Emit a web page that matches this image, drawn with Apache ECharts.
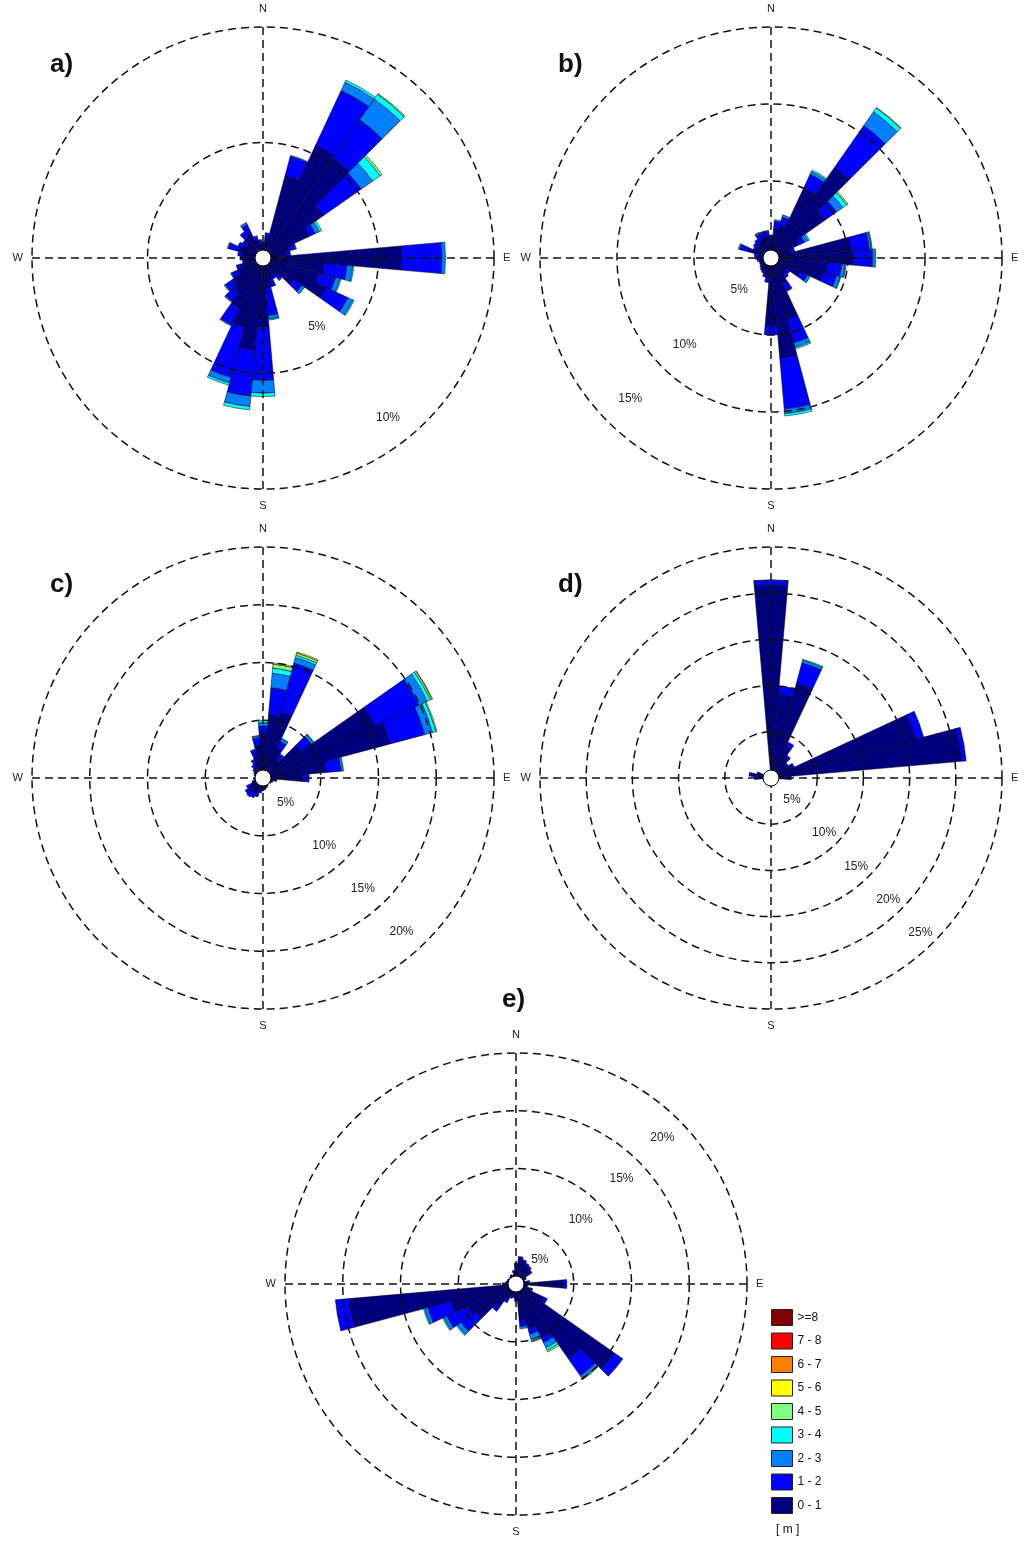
<!DOCTYPE html>
<html>
<head>
<meta charset="utf-8">
<title>Wind roses</title>
<script src="https://cdn.jsdelivr.net/npm/echarts@6/dist/echarts.min.js"></script>
<style>
    html, body { margin: 0; padding: 0; background: #ffffff; }
    #chart { width: 1024px; height: 1543px; }
</style>
</head>
<body>
<div id="chart"></div>
<script>
// direction bins (degrees, clockwise from north)
const DIRECTIONS = ['0', '10', '20', '30', '40', '50', '60', '70', '80', '90', '100', '110',
    '120', '130', '140', '150', '160', '170', '180', '190', '200', '210', '220', '230',
    '240', '250', '260', '270', '280', '290', '300', '310', '320', '330', '340', '350'];

const CLASSES = ['0 - 1', '1 - 2', '2 - 3', '3 - 4', '4 - 5', '5 - 6', '6 - 7', '7 - 8', '>=8'];
const LEGEND_ORDER = ['>=8', '7 - 8', '6 - 7', '5 - 6', '4 - 5', '3 - 4', '2 - 3', '1 - 2', '0 - 1'];

// ring tick labels per panel (%)
const RINGS_A = [5, 10];
const RINGS_B = [5, 10, 15];
const RINGS_C = [5, 10, 15, 20];
const RINGS_D = [5, 10, 15, 20, 25];
const RINGS_E = [5, 10, 15, 20];

// panel a) frequency (%) per direction for each wave height class
const A_01 = [0.6, 0.9, 3.7, 5.4, 5.3, 3.2, 2.2, 1.2, 1.0, 6.0, 2.65, 2.5, 3.0, 1.6, 0.9, 0.8, 1.0, 1.3,
    3.0, 4.0, 3.1, 2.4, 1.8, 1.6, 1.2, 1.0, 0.8, 0.85, 0.9, 1.1, 1.0, 0.9, 1.1, 1.2, 0.8, 0.7];
const A_12 = [0.1, 0.2, 0.85, 2.6, 2.0, 2.0, 0.3, 0.25, 0.2, 1.75, 1.0, 0.75, 1.05, 0.45, 0.25, 0.2, 0.3, 1.2,
    2.3, 2.0, 2.25, 0.8, 0.5, 0.4, 0.3, 0.2, 0.1, 0.15, 0.2, 0.45, 0.2, 0.2, 0.3, 0.4, 0.2, 0.1];
const A_23 = [0, 0, 0.05, 0.4, 1.1, 0.6, 0.2, 0.05, 0, 0.15, 0.25, 0.2, 0.25, 0.15, 0.05, 0, 0, 0.15,
    0.55, 0.45, 0.25, 0.05, 0.05, 0.05, 0.05, 0, 0, 0, 0, 0.05, 0, 0, 0, 0.1, 0, 0];
const A_34 = [0, 0, 0, 0.1, 0.25, 0.4, 0.1, 0, 0, 0, 0.05, 0.05, 0.05, 0, 0, 0, 0, 0.05,
    0.15, 0.15, 0.1, 0, 0, 0, 0, 0, 0, 0, 0, 0, 0, 0, 0, 0, 0, 0];
const A_45 = [0, 0, 0, 0, 0.05, 0.1, 0, 0, 0, 0, 0, 0, 0, 0, 0, 0, 0, 0,
    0, 0, 0, 0, 0, 0, 0, 0, 0, 0, 0, 0, 0, 0, 0, 0, 0, 0];

// panel b)
const B_01 = [1.2, 1.9, 2.2, 5.0, 7.2, 4.3, 2.0, 1.3, 5.2, 5.3, 3.7, 3.5, 2.1, 1.2, 1.3, 1.8, 4.1, 6.5,
    4.4, 1.3, 1.1, 0.9, 0.9, 0.8, 0.7, 0.7, 0.8, 0.9, 0.9, 1.6, 1.1, 1.1, 1.2, 1.3, 1.4, 1.4];
const B_12 = [0.3, 0.5, 0.55, 1.0, 3.3, 0.9, 0.4, 0.3, 1.2, 1.3, 0.9, 0.9, 0.5, 0.3, 0.3, 0.55, 1.6, 3.35,
    0.6, 0.3, 0.2, 0.2, 0.1, 0.1, 0.1, 0.1, 0.1, 0.1, 0.2, 0.5, 0.2, 0.3, 0.3, 0.45, 0.4, 0.35];
const B_23 = [0, 0.1, 0.15, 0.2, 1.1, 0.5, 0.25, 0, 0.15, 0.2, 0.25, 0.25, 0.2, 0, 0, 0.05, 0.3, 0.3,
    0, 0, 0, 0, 0, 0, 0, 0, 0, 0, 0, 0.1, 0, 0, 0, 0.1, 0, 0.05];
const B_34 = [0, 0, 0, 0.1, 0.3, 0.3, 0.1, 0, 0.05, 0, 0.05, 0.05, 0, 0, 0, 0, 0.1, 0.15,
    0, 0, 0, 0, 0, 0, 0, 0, 0, 0, 0, 0, 0, 0, 0, 0, 0, 0];
const B_45 = [0, 0, 0, 0, 0.05, 0.1, 0, 0, 0, 0, 0, 0, 0, 0, 0, 0, 0, 0,
    0, 0, 0, 0, 0, 0, 0, 0, 0, 0, 0, 0, 0, 0, 0, 0, 0, 0];

// panel c)
const C_01 = [3.8, 5.5, 5.9, 2.8, 2.0, 4.0, 10.7, 11.4, 5.5, 3.4, 1.0, 0.8, 0.7, 0.6, 0.6, 0.7, 0.8, 0.9,
    0.9, 1.0, 1.3, 1.4, 1.4, 1.4, 1.2, 0.8, 0.7, 0.6, 0.6, 0.7, 0.8, 0.9, 1.1, 1.4, 1.9, 2.8];
const C_12 = [0.7, 2.35, 4.4, 0.7, 0.5, 1.1, 4.2, 3.1, 1.3, 0.6, 0.2, 0.1, 0.1, 0.1, 0.1, 0.1, 0.1, 0.1,
    0.2, 0.3, 0.4, 0.5, 0.6, 0.5, 0.4, 0.2, 0.1, 0.1, 0.1, 0.1, 0.1, 0.2, 0.3, 0.4, 0.6, 0.7];
const C_23 = [0.3, 1.25, 0.5, 0.25, 0.1, 0.25, 0.8, 0.7, 0.2, 0, 0, 0, 0, 0, 0, 0, 0, 0,
    0, 0, 0, 0, 0, 0, 0, 0, 0, 0, 0, 0, 0, 0, 0, 0, 0.1, 0.15];
const C_34 = [0.2, 0.45, 0.2, 0.05, 0, 0.05, 0.3, 0.3, 0, 0, 0, 0, 0, 0, 0, 0, 0, 0,
    0, 0, 0, 0, 0, 0, 0, 0, 0, 0, 0, 0, 0, 0, 0, 0, 0, 0.05];
const C_45 = [0, 0.35, 0.2, 0, 0, 0, 0.15, 0.1, 0, 0, 0, 0, 0, 0, 0, 0, 0, 0,
    0, 0, 0, 0, 0, 0, 0, 0, 0, 0, 0, 0, 0, 0, 0, 0, 0, 0];
const C_56 = [0, 0.1, 0.1, 0, 0, 0, 0.05, 0, 0, 0, 0, 0, 0, 0, 0, 0, 0, 0,
    0, 0, 0, 0, 0, 0, 0, 0, 0, 0, 0, 0, 0, 0, 0, 0, 0, 0];

// panel d)
const D_01 = [20.9, 9.1, 10.6, 3.8, 2.7, 2.1, 2.5, 16.2, 20.7, 2.0, 0.7, 0.5, 0.4, 0.3, 0.3, 0.3, 0.3, 0.3,
    0.3, 0.3, 0.3, 0.3, 0.3, 0.3, 0.4, 0.5, 0.8, 1.5, 2.0, 1.4, 0.6, 0.4, 0.4, 0.4, 0.5, 0.6];
const D_12 = [0.5, 0.9, 2.3, 0.5, 0.3, 0.2, 0.3, 0.9, 0.5, 0.2, 0, 0, 0, 0, 0, 0, 0, 0,
    0, 0, 0, 0, 0, 0, 0, 0, 0, 0.3, 0.4, 0.2, 0, 0, 0, 0, 0, 0];
const D_23 = [0.05, 0, 0.3, 0, 0, 0, 0, 0, 0, 0, 0, 0, 0, 0, 0, 0, 0, 0,
    0, 0, 0, 0, 0, 0, 0, 0, 0, 0, 0, 0, 0, 0, 0, 0, 0, 0];
const D_34 = [0, 0, 0.1, 0, 0, 0, 0, 0, 0, 0, 0, 0, 0, 0, 0, 0, 0, 0,
    0, 0, 0, 0, 0, 0, 0, 0, 0, 0, 0, 0, 0, 0, 0, 0, 0, 0];

// panel e)
const E_01 = [1.6, 2.2, 2.0, 1.8, 1.7, 1.5, 0.9, 0.7, 1.0, 4.0, 0.9, 1.3, 2.7, 10.4, 7.9, 5.1, 4.0, 3.2,
    1.3, 1.0, 1.1, 1.5, 2.4, 4.2, 4.6, 5.8, 14.5, 1.0, 0.8, 0.7, 0.7, 0.6, 0.7, 0.8, 0.7, 1.1];
const E_12 = [0.2, 0.2, 0.2, 0.2, 0.2, 0.2, 0.1, 0.1, 0.2, 0.4, 0.1, 0.2, 0.3, 0.9, 1.8, 0.5, 0.5, 0.5,
    0.2, 0.2, 0.2, 0.3, 0.5, 1.6, 2.0, 2.1, 1.2, 0.2, 0.1, 0.1, 0.1, 0.1, 0.1, 0.1, 0.1, 0.1];
const E_23 = [0, 0, 0, 0, 0, 0, 0, 0, 0, 0, 0, 0, 0, 0, 0.25, 0.5, 0.5, 0.2,
    0, 0, 0, 0, 0, 0.4, 0.3, 0.3, 0, 0, 0, 0, 0, 0, 0, 0, 0, 0];
const E_34 = [0, 0, 0, 0, 0, 0, 0, 0, 0, 0, 0, 0, 0, 0, 0.1, 0.25, 0.15, 0,
    0, 0, 0, 0, 0, 0.1, 0.1, 0.1, 0, 0, 0, 0, 0, 0, 0, 0, 0, 0];
const E_45 = [0, 0, 0, 0, 0, 0, 0, 0, 0, 0, 0, 0, 0, 0, 0.05, 0.15, 0.05, 0,
    0, 0, 0, 0, 0, 0, 0, 0, 0, 0, 0, 0, 0, 0, 0, 0, 0, 0];

const CLASS_COLORS = ['#00007f', '#0000ff', '#0080ff', '#00ffff', '#80ff80',
    '#ffff00', '#ff8000', '#ff0000', '#7f0000'];

const FONT = 'Liberation Sans, Arial, sans-serif';

class WindRoseFigure {
    constructor(containerId) {
        this.containerId = containerId;
        this.chart = null;
        this.option = null;
        this.radius = 231;
    }

    init() {
        this.chart = echarts.init(document.getElementById(this.containerId), null, { renderer: 'canvas' });
        this.panels = [
            { label: 'a)', center: [263, 258], max: 10, rings: RINGS_A, labelAngle: -52, labelInset: 28,
              title: [45, 47], layers: [A_01, A_12, A_23, A_34, A_45] },
            { label: 'b)', center: [771, 258], max: 15, rings: RINGS_B, labelAngle: -135, labelInset: 32,
              title: [553, 47], layers: [B_01, B_12, B_23, B_34, B_45] },
            { label: 'c)', center: [263, 778], max: 20, rings: RINGS_C, labelAngle: -48, labelInset: 24,
              title: [45, 567], layers: [C_01, C_12, C_23, C_34, C_45, C_56] },
            { label: 'd)', center: [771, 778], max: 25, rings: RINGS_D, labelAngle: -46, labelInset: 16,
              title: [553, 567], layers: [D_01, D_12, D_23, D_34] },
            { label: 'e)', center: [516, 1284], max: 20, rings: RINGS_E, labelAngle: 45, labelInset: 24,
              title: [497, 982], layers: [E_01, E_12, E_23, E_34, E_45] }
        ];
        this.setOption();
    }

    setOption() {
        const n = this.panels.length;
        const R = this.radius;
        const polar = [];
        const angleAxis = [];
        const radiusAxis = [];
        const series = [];
        const title = [];
        const dash = { type: [8, 5], color: '#111', width: 1.5 };
        const compass = { 0: '{n|N}', 90: 'E', 180: '{s|S}', 270: 'W' };

        this.panels.forEach((p, i) => {
            // bars
            polar[i] = { center: p.center, radius: [0, R] };
            angleAxis[i] = {
                polarIndex: i, type: 'category', data: DIRECTIONS, startAngle: 95,
                clockwise: true, show: false
            };
            radiusAxis[i] = { polarIndex: i, type: 'value', min: 0, max: p.max, show: false };

            // dashed grid (drawn above bars)
            polar[n + i] = { center: p.center, radius: [0, R] };
            angleAxis[n + i] = {
                polarIndex: n + i, type: 'value', min: 0, max: 360, interval: 90,
                startAngle: 90, clockwise: true, z: 10,
                axisLine: { show: false },
                axisTick: { show: false },
                axisLabel: {
                    margin: 9, fontSize: 11, color: '#222', fontFamily: FONT,
                    formatter: v => compass[v] || '',
                    rich: {
                        n: { fontSize: 11, fontFamily: FONT, color: '#222', padding: [0, 0, 4, 0] },
                        s: { fontSize: 11, fontFamily: FONT, color: '#222', padding: [2, 0, 0, 0] }
                    }
                },
                splitLine: { show: true, lineStyle: dash }
            };
            radiusAxis[n + i] = {
                polarIndex: n + i, type: 'value', min: 0, max: p.max, interval: 5, z: 10,
                axisLine: { show: false },
                axisTick: { show: false },
                axisLabel: { show: false },
                splitLine: { show: true, lineStyle: dash }
            };

            // ring labels, pulled a little inside each ring
            const pxPerUnit = R / p.max;
            polar[2 * n + i] = { center: p.center, radius: [0, R - p.labelInset] };
            angleAxis[2 * n + i] = {
                polarIndex: 2 * n + i, type: 'value', min: 0, max: 360,
                startAngle: p.labelAngle, show: false
            };
            radiusAxis[2 * n + i] = {
                polarIndex: 2 * n + i, type: 'value',
                min: p.labelInset / pxPerUnit, max: p.max, z: 10,
                axisLine: { show: false },
                axisTick: { show: false },
                splitLine: { show: false },
                axisLabel: {
                    customValues: p.rings, margin: 0, rotate: 0,
                    align: 'center', verticalAlign: 'middle',
                    fontSize: 12, color: '#222', fontFamily: FONT,
                    formatter: '{value}%'
                }
            };

            CLASSES.forEach((name, k) => {
                const layer = p.layers[k] || [];
                series.push({
                    type: 'bar',
                    name: name,
                    coordinateSystem: 'polar',
                    polarIndex: i,
                    stack: 'rose' + i,
                    barCategoryGap: '0%',
                    silent: true,
                    z: 2,
                    itemStyle: { color: CLASS_COLORS[k], borderColor: '#000', borderWidth: 0.5 },
                    data: layer.map(v => (v === 0 ? null : v))
                });
            });

            // white hub in the middle
            series.push({
                type: 'pie',
                center: p.center,
                radius: [0, 8],
                silent: true,
                z: 20,
                label: { show: false },
                labelLine: { show: false },
                itemStyle: { color: '#fff', borderColor: '#000', borderWidth: 1 },
                data: [{ value: 1, name: 'hub' }]
            });

            title.push({
                text: p.label, left: p.title[0], top: p.title[1],
                textStyle: { fontSize: 26, fontWeight: 'bold', color: '#111', fontFamily: FONT }
            });
        });

        title.push({
            text: '[ m ]', left: 771, top: 1519,
            textStyle: { fontSize: 12, fontWeight: 'normal', color: '#111', fontFamily: FONT }
        });

        this.option = {
            backgroundColor: '#ffffff',
            animation: false,
            title: title,
            legend: {
                data: LEGEND_ORDER,
                orient: 'vertical',
                left: 771,
                top: 1309,
                padding: 0,
                itemWidth: 21,
                itemHeight: 16,
                itemGap: 6.5,
                icon: 'rect',
                selectedMode: false,
                itemStyle: { borderColor: '#222', borderWidth: 1 },
                textStyle: { fontSize: 12, color: '#111', fontFamily: FONT }
            },
            polar: polar,
            angleAxis: angleAxis,
            radiusAxis: radiusAxis,
            series: series
        };

        this.chart.setOption(this.option);
    }
}

const figure = new WindRoseFigure('chart');
figure.init();
</script>
</body>
</html>
